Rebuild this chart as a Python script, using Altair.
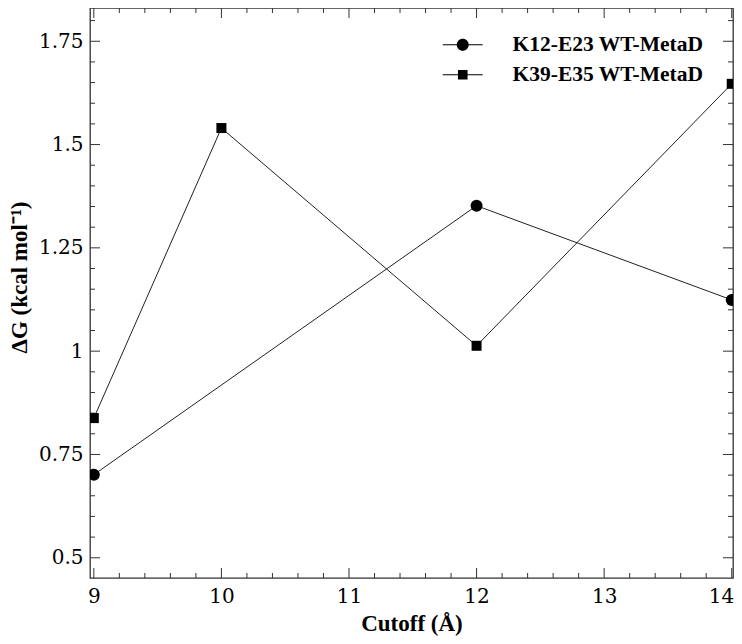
import altair as alt
import pandas as pd

# ---- data ----
series_names = ["K12-E23 WT-MetaD", "K39-E35 WT-MetaD"]
k12_cutoff = [9, 12, 14]
k12_dg = [0.701, 1.352, 1.124]
k39_cutoff = [9, 10, 12, 14]
k39_dg = [0.838, 1.540, 1.013, 1.647]

x_ticks = [9, 10, 11, 12, 13, 14]
y_ticks = [0.5, 0.75, 1.0, 1.25, 1.5, 1.75]
x_minor = [round(9 + 0.2 * i, 1) for i in range(26) if i % 5 != 0]
y_minor = [round(0.5 + 0.05 * i, 2) for i in range(27) if i % 5 != 0]

W, H = 643, 570
FRAME = "#333333"

df = pd.DataFrame({
    "cutoff": k12_cutoff + k39_cutoff,
    "dg": k12_dg + k39_dg,
    "series": [series_names[0]] * len(k12_cutoff) + [series_names[1]] * len(k39_cutoff),
})

xscale = alt.Scale(domain=[8.97, 14.01], nice=False, zero=False)
yscale = alt.Scale(domain=[0.451, 1.8305], nice=False, zero=False)

x_axis = alt.Axis(
    values=x_ticks, labelExpr="datum.value + ''", title="Cutoff (Å)",
    labelPadding=8, titlePadding=6,
    labelAlign=alt.condition("datum.value == 14", alt.value("right"), alt.value("center")),
    labelOffset=alt.condition("datum.value == 14", alt.value(2), alt.value(0)),
)
y_axis = alt.Axis(values=y_ticks, labelExpr="datum.value + ''", title="ΔG (kcal mol⁻¹)",
                  labelPadding=7, titlePadding=7, titleY=269)

# legend glyphs: marker with a short line through it (line drawn as two thin bars)
leg_circ = ("M-3.33,-0.09L-0.95,-0.09L-0.95,0.09L-3.33,0.09Z"
            "M0.95,-0.09L3.33,-0.09L3.33,0.09L0.95,0.09Z"
            "M1,0A1,1,0,1,1,-1,0A1,1,0,1,1,1,0Z")
leg_sq = ("M-3.33,-0.09L-0.8,-0.09L-0.8,0.09L-3.33,0.09Z"
          "M0.8,-0.09L3.33,-0.09L3.33,0.09L0.8,0.09Z"
          "M-0.8,-0.8L0.8,-0.8L0.8,0.8L-0.8,0.8Z")


def X(field):
    return alt.X(field, scale=xscale, axis=x_axis)


def Y(field):
    return alt.Y(field, scale=yscale, axis=y_axis)


# legend-only layer (drawn off the plot, clipped away)
legend_layer = alt.Chart(df).mark_point(
    filled=True, color="black", strokeWidth=0, size=144, opacity=1, clip=True
).encode(
    x=alt.value(-300), y=alt.value(-300),
    shape=alt.Shape("series:N",
                    scale=alt.Scale(domain=series_names, range=[leg_circ, leg_sq]),
                    legend=alt.Legend(title=None, orient="none", legendX=362, legendY=26,
                                      labelFont="Liberation Serif", labelFontSize=21.5,
                                      labelFontWeight="bold", labelColor="black",
                                      labelLimit=0, labelOffset=39, symbolSize=144,
                                      symbolFillColor="black", symbolStrokeWidth=0,
                                      rowPadding=7, padding=0)),
)

line = alt.Chart(df).mark_line(color="#222222", strokeWidth=1).encode(
    x=X("cutoff:Q"), y=Y("dg:Q"), detail="series:N",
)

pts_circle = alt.Chart(df).transform_filter(
    alt.datum.series == series_names[0]
).mark_point(filled=True, color="black", size=144, opacity=1, strokeWidth=0,
             shape="circle", clip=True).encode(x=X("cutoff:Q"), y=Y("dg:Q"))

pts_square = alt.Chart(df).transform_filter(
    alt.datum.series == series_names[1]
).mark_point(filled=True, color="black", size=100, opacity=1, strokeWidth=0,
             shape="square", clip=True).encode(x=X("cutoff:Q"), y=Y("dg:Q"))


def xtick_layer(vals, length, top):
    d = pd.DataFrame({"cutoff": vals})
    if top:
        yy, yy2 = alt.value(0), alt.value(length)
    else:
        yy, yy2 = alt.value(H), alt.value(H - length)
    return alt.Chart(d).mark_rule(color=FRAME, strokeWidth=1).encode(
        x=X("cutoff:Q"), y=yy, y2=yy2)


def ytick_layer(vals, length, left):
    d = pd.DataFrame({"dg": vals})
    if left:
        xx, xx2 = alt.value(0), alt.value(length)
    else:
        xx, xx2 = alt.value(W), alt.value(W - length)
    return alt.Chart(d).mark_rule(color=FRAME, strokeWidth=1).encode(
        y=Y("dg:Q"), x=xx, x2=xx2)


ticks = [
    xtick_layer(x_ticks, 10, False), xtick_layer(x_ticks, 10, True),
    xtick_layer(x_minor, 5, False), xtick_layer(x_minor, 5, True),
    ytick_layer(y_ticks, 10, True), ytick_layer(y_ticks, 10, False),
    ytick_layer(y_minor, 5, True), ytick_layer(y_minor, 5, False),
]

chart = alt.layer(line, *ticks, pts_circle, pts_square, legend_layer).properties(
    width=W, height=H,
    autosize=alt.AutoSizeParams(type="none"),
    padding={"left": 82, "top": 0, "right": 1, "bottom": 64},
).configure_view(
    stroke=FRAME, strokeWidth=1.3
).configure_axis(
    labelFont="DejaVu Serif", labelFontSize=20, labelColor="black",
    titleFont="Liberation Serif", titleFontSize=23, titleFontWeight="bold",
    titleColor="black", ticks=False, domain=False, grid=False,
)

chart.save("out.html", embed_options={"renderer": "svg", "actions": False})
